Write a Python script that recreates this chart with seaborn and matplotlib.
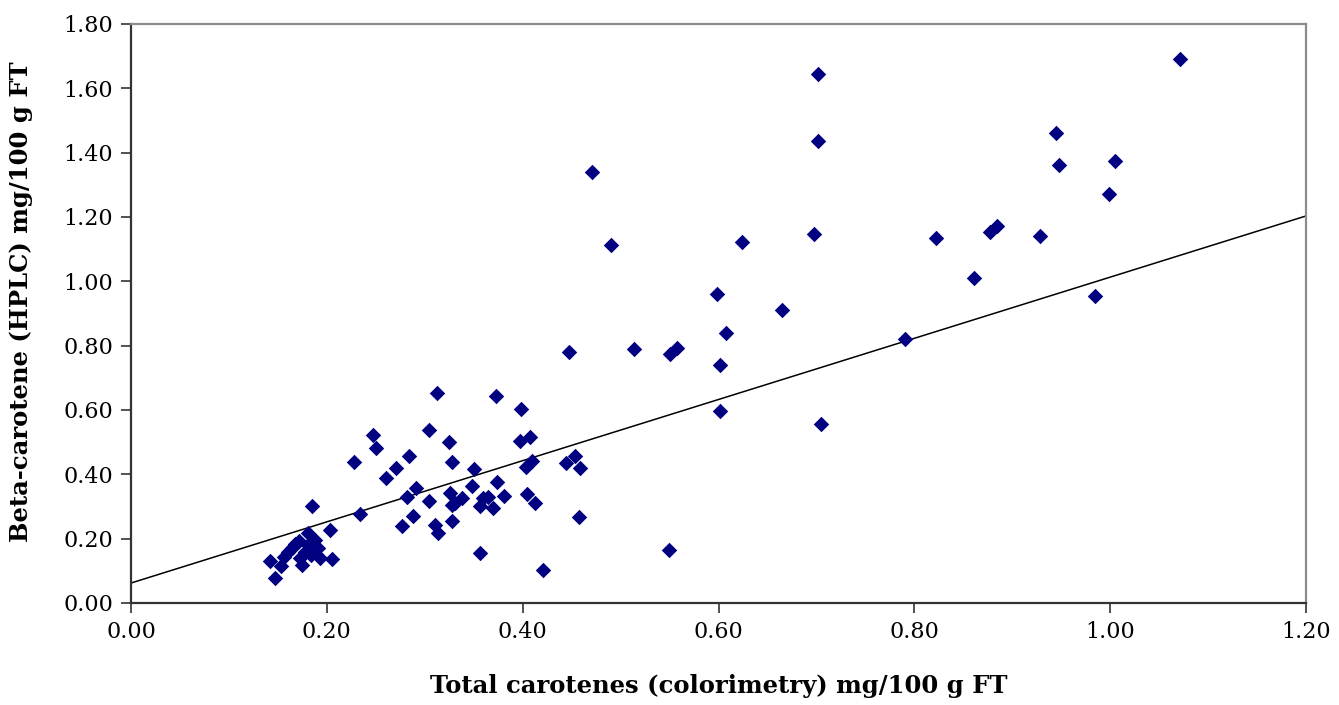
import numpy as np
import pandas as pd
import seaborn as sns
from matplotlib import pyplot as plt

# colorimetry (x) vs HPLC (y), mg/100 g FT
total_carotenes = [
    0.142, 0.147, 0.153, 0.156, 0.160, 0.164, 0.168, 0.172, 0.173, 0.175,
    0.178, 0.181, 0.181, 0.184, 0.186, 0.188, 0.191, 0.193, 0.1846, 0.2035,
    0.205, 0.234,
    0.2475, 0.250, 0.228, 0.2605, 0.2707, 0.2843, 0.3044, 0.3245, 0.3276, 0.313,
    0.373, 0.398, 0.397, 0.4075, 0.350, 0.3735, 0.348, 0.2816, 0.2908, 0.304,
    0.2877, 0.2765, 0.3105, 0.314, 0.3275, 0.326, 0.331, 0.328, 0.338, 0.3565,
    0.360, 0.365, 0.370, 0.381, 0.404, 0.413, 0.4035, 0.410, 0.444, 0.4535,
    0.4586, 0.458, 0.3565, 0.421,
    0.4474, 0.4706, 0.4903, 0.5138, 0.5506, 0.558, 0.598, 0.6016, 0.6016, 0.6074,
    0.6244, 0.6646, 0.698, 0.7014, 0.7014, 0.7048, 0.5495,
    0.7906, 0.8216, 0.8614, 0.8774, 0.8843, 0.9278, 0.9449, 0.948, 0.9847,
    0.9987, 1.0048, 1.0708,
]
beta_carotene = [
    0.132, 0.077, 0.115, 0.144, 0.160, 0.170, 0.183, 0.192, 0.140, 0.118,
    0.158, 0.218, 0.180, 0.150, 0.165, 0.196, 0.172, 0.140, 0.302, 0.227,
    0.136, 0.277,
    0.522, 0.481, 0.438, 0.390, 0.421, 0.458, 0.538, 0.5015, 0.437, 0.654,
    0.644, 0.603, 0.505, 0.517, 0.415, 0.377, 0.364, 0.330, 0.357, 0.317,
    0.271, 0.239, 0.2425, 0.219, 0.255, 0.341, 0.310, 0.305, 0.325, 0.300,
    0.325, 0.330, 0.294, 0.334, 0.339, 0.310, 0.424, 0.442, 0.436, 0.457,
    0.419, 0.268, 0.156, 0.103,
    0.779, 1.341, 1.113, 0.790, 0.774, 0.792, 0.960, 0.740, 0.597, 0.840,
    1.121, 0.911, 1.147, 1.437, 1.644, 0.556, 0.166,
    0.820, 1.134, 1.011, 1.154, 1.173, 1.142, 1.462, 1.363, 0.955,
    1.271, 1.375, 1.690,
]

# trendline as drawn on the chart
trend_intercept = 0.062
trend_slope = 0.951

x_ticks = [0.00, 0.20, 0.40, 0.60, 0.80, 1.00, 1.20]
y_ticks = [0.00, 0.20, 0.40, 0.60, 0.80, 1.00, 1.20, 1.40, 1.60, 1.80]

df = pd.DataFrame({"total": total_carotenes, "beta": beta_carotene})

sns.set_style("white")
plt.rcParams['font.family'] = ['DejaVu Serif']
plt.rcParams['text.color'] = 'black'
plt.rcParams['axes.labelcolor'] = 'black'
plt.rcParams['xtick.color'] = 'black'
plt.rcParams['ytick.color'] = 'black'

fig, ax = plt.subplots(figsize=(13.39, 7.05), dpi=100)
fig.subplots_adjust(left=0.0978, right=0.9754, top=0.966, bottom=0.1447)

sns.scatterplot(data=df, x="total", y="beta", marker="D", s=62, color="#000080",
                linewidth=0, ax=ax, zorder=3)
ax.axline((0, trend_intercept), slope=trend_slope, color="black", lw=1.1, zorder=2)

ax.set_xlim(x_ticks[0], x_ticks[-1])
ax.set_ylim(y_ticks[0], y_ticks[-1])
ax.set_xticks(x_ticks)
ax.set_yticks(y_ticks)
ax.set_xticklabels([f"{v:.2f}" for v in x_ticks], fontsize=16)
ax.set_yticklabels([f"{v:.2f}" for v in y_ticks], fontsize=16)
ax.tick_params(axis="both", direction="out", length=7, width=1.2, color="#333333",
               labelcolor="black", bottom=True, left=True, pad=6)

for side in ["left", "bottom"]:
    ax.spines[side].set_color("#333333")
    ax.spines[side].set_linewidth(1.6)
for side in ["top", "right"]:
    ax.spines[side].set_color("#8c8c8c")
    ax.spines[side].set_linewidth(1.6)

ax.set_xlabel("Total carotenes (colorimetry) mg/100 g FT", fontsize=17.5,
              fontweight="bold", labelpad=22, color="black")
ax.set_ylabel("Beta-carotene (HPLC) mg/100 g FT", fontsize=17.5,
              fontweight="bold", labelpad=16, color="black")
ax.yaxis.set_label_coords(-0.083, 0.52)

plt.savefig("out.png", dpi=100)
plt.close()
